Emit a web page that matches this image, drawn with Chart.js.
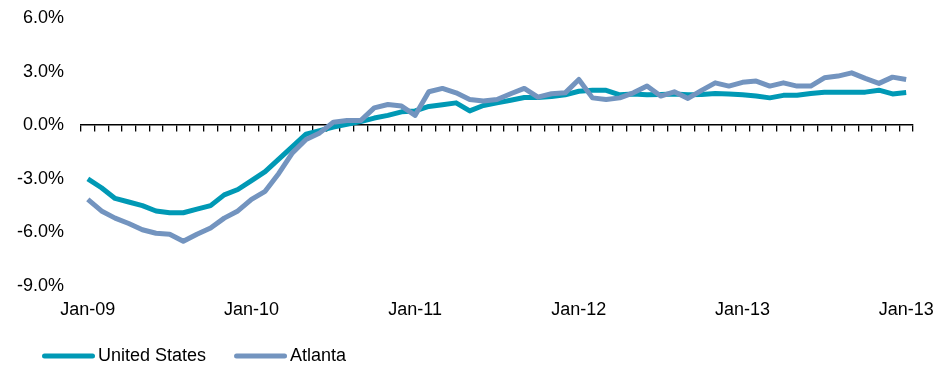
<!DOCTYPE html>
<html>
<head>
<meta charset="utf-8">
<script src="https://cdn.jsdelivr.net/npm/chart.js@4/dist/chart.umd.min.js"></script>
<style>
  html, body { margin: 0; padding: 0; background: #fff; }
  #wrap { width: 951px; height: 367px; }
</style>
</head>
<body>
<div id="wrap"><canvas id="chart" width="951" height="367"></canvas></div>
<script>
// Monthly categories, Jan-09 through Jan-14
const months = [
  'Jan-09','Feb-09','Mar-09','Apr-09','May-09','Jun-09','Jul-09','Aug-09','Sep-09','Oct-09','Nov-09','Dec-09',
  'Jan-10','Feb-10','Mar-10','Apr-10','May-10','Jun-10','Jul-10','Aug-10','Sep-10','Oct-10','Nov-10','Dec-10',
  'Jan-11','Feb-11','Mar-11','Apr-11','May-11','Jun-11','Jul-11','Aug-11','Sep-11','Oct-11','Nov-11','Dec-11',
  'Jan-12','Feb-12','Mar-12','Apr-12','May-12','Jun-12','Jul-12','Aug-12','Sep-12','Oct-12','Nov-12','Dec-12',
  'Jan-13','Feb-13','Mar-13','Apr-13','May-13','Jun-13','Jul-13','Aug-13','Sep-13','Oct-13','Nov-13','Dec-13',
  'Jan-14'
];

// Axis labels printed every twelfth month
const tickLabels = ['Jan-09', 'Jan-10', 'Jan-11', 'Jan-12', 'Jan-13', 'Jan-13'];

// Year-over-year change, percent
const unitedStates = [
  -3.0, -3.5, -4.1, -4.3, -4.5, -4.8, -4.9, -4.9, -4.7, -4.5, -3.9, -3.6,
  -3.1, -2.6, -1.9, -1.2, -0.5, -0.3, -0.1, 0.05, 0.2, 0.4, 0.55, 0.75,
  0.8, 1.05, 1.15, 1.25, 0.8, 1.1, 1.25, 1.4, 1.55, 1.55, 1.6, 1.7,
  1.9, 1.95, 1.95, 1.7, 1.75, 1.7, 1.72, 1.75, 1.7, 1.72, 1.78, 1.75,
  1.7, 1.63, 1.53, 1.67, 1.68, 1.78, 1.85, 1.85, 1.85, 1.85, 1.96, 1.75,
  1.83
];

const atlanta = [
  -4.15, -4.8, -5.2, -5.5, -5.85, -6.05, -6.1, -6.5, -6.1, -5.75, -5.2, -4.8,
  -4.15, -3.7, -2.7, -1.55, -0.8, -0.43, 0.17, 0.26, 0.26, 0.97, 1.16, 1.07,
  0.55, 1.87, 2.06, 1.81, 1.44, 1.35, 1.44, 1.76, 2.06, 1.57, 1.76, 1.81,
  2.56, 1.53, 1.44, 1.53, 1.81, 2.19, 1.63, 1.87, 1.5, 1.95, 2.37, 2.19,
  2.4, 2.47, 2.19, 2.37, 2.19, 2.19, 2.65, 2.75, 2.93, 2.62, 2.34, 2.69,
  2.56
];

const seriesNames = ['United States', 'Atlanta'];
const seriesColors = ['#0099b5', '#7394bf'];

const FONT = "'Liberation Sans', Arial, Helvetica, sans-serif";
Chart.defaults.font.family = FONT;
Chart.defaults.font.size = 18;
Chart.defaults.color = '#000';

// Legend drawn as short thick line samples followed by the series name
const lineLegend = {
  id: 'lineLegend',
  afterDraw(chart, args, opts) {
    const ctx = chart.ctx;
    ctx.save();
    ctx.font = '18px ' + FONT;
    ctx.textBaseline = 'middle';
    ctx.textAlign = 'left';
    let x = opts.x;
    chart.data.datasets.forEach(ds => {
      ctx.strokeStyle = ds.borderColor;
      ctx.lineWidth = 5;
      ctx.lineCap = 'round';
      ctx.beginPath();
      ctx.moveTo(x + 2.5, opts.y);
      ctx.lineTo(x + opts.lineLength - 2.5, opts.y);
      ctx.stroke();
      x += opts.lineLength + opts.textGap;
      ctx.fillStyle = '#000';
      ctx.fillText(ds.label, x, opts.y);
      x += ctx.measureText(ds.label).width + opts.itemGap;
    });
    ctx.restore();
  }
};

new Chart(document.getElementById('chart'), {
  type: 'line',
  data: {
    labels: months,
    datasets: [
      {
        label: seriesNames[0],
        data: unitedStates,
        borderColor: seriesColors[0],
        backgroundColor: seriesColors[0],
        order: 1
      },
      {
        label: seriesNames[1],
        data: atlanta,
        borderColor: seriesColors[1],
        backgroundColor: seriesColors[1],
        order: 0
      }
    ]
  },
  options: {
    responsive: false,
    animation: false,
    devicePixelRatio: 1,
    elements: {
      line: { borderWidth: 5, tension: 0, borderJoinStyle: 'round', borderCapStyle: 'butt' },
      point: { radius: 0, hoverRadius: 0 }
    },
    layout: { padding: { top: 18, right: 38, bottom: 39, left: 0 } },
    plugins: {
      legend: { display: false },
      tooltip: { enabled: false },
      lineLegend: { x: 42, y: 356, lineLength: 53, textGap: 3, itemGap: 28 }
    },
    scales: {
      // zero line with monthly tick marks
      x: {
        type: 'category',
        position: { y: 0 },
        offset: true,
        grid: {
          offset: true,
          drawOnChartArea: false,
          drawTicks: true,
          tickLength: 6,
          color: '#000',
          lineWidth: 1.3
        },
        border: { display: true, color: '#000', width: 1.5 },
        ticks: { display: false, autoSkip: false }
      },
      // year labels along the bottom
      xLabels: {
        type: 'category',
        position: 'bottom',
        offset: true,
        grid: { display: false, drawTicks: false },
        border: { display: false },
        ticks: {
          autoSkip: false,
          maxRotation: 0,
          minRotation: 0,
          padding: 13,
          color: '#000',
          font: { size: 18 },
          callback: (value, index) => (index % 12 === 0 ? tickLabels[index / 12] : '')
        },
        afterFit(scale) { scale.height = 42; }
      },
      y: {
        min: -9,
        max: 6,
        grid: { display: false, drawTicks: false },
        border: { display: false },
        ticks: {
          stepSize: 3,
          padding: 17,
          color: '#000',
          font: { size: 18 },
          callback: v => v.toFixed(1) + '%'
        },
        afterFit(scale) {
          scale.width = 81;
          scale.paddingTop = 0;
          scale.paddingBottom = 0;
        }
      }
    }
  },
  plugins: [lineLegend]
});
</script>
</body>
</html>
